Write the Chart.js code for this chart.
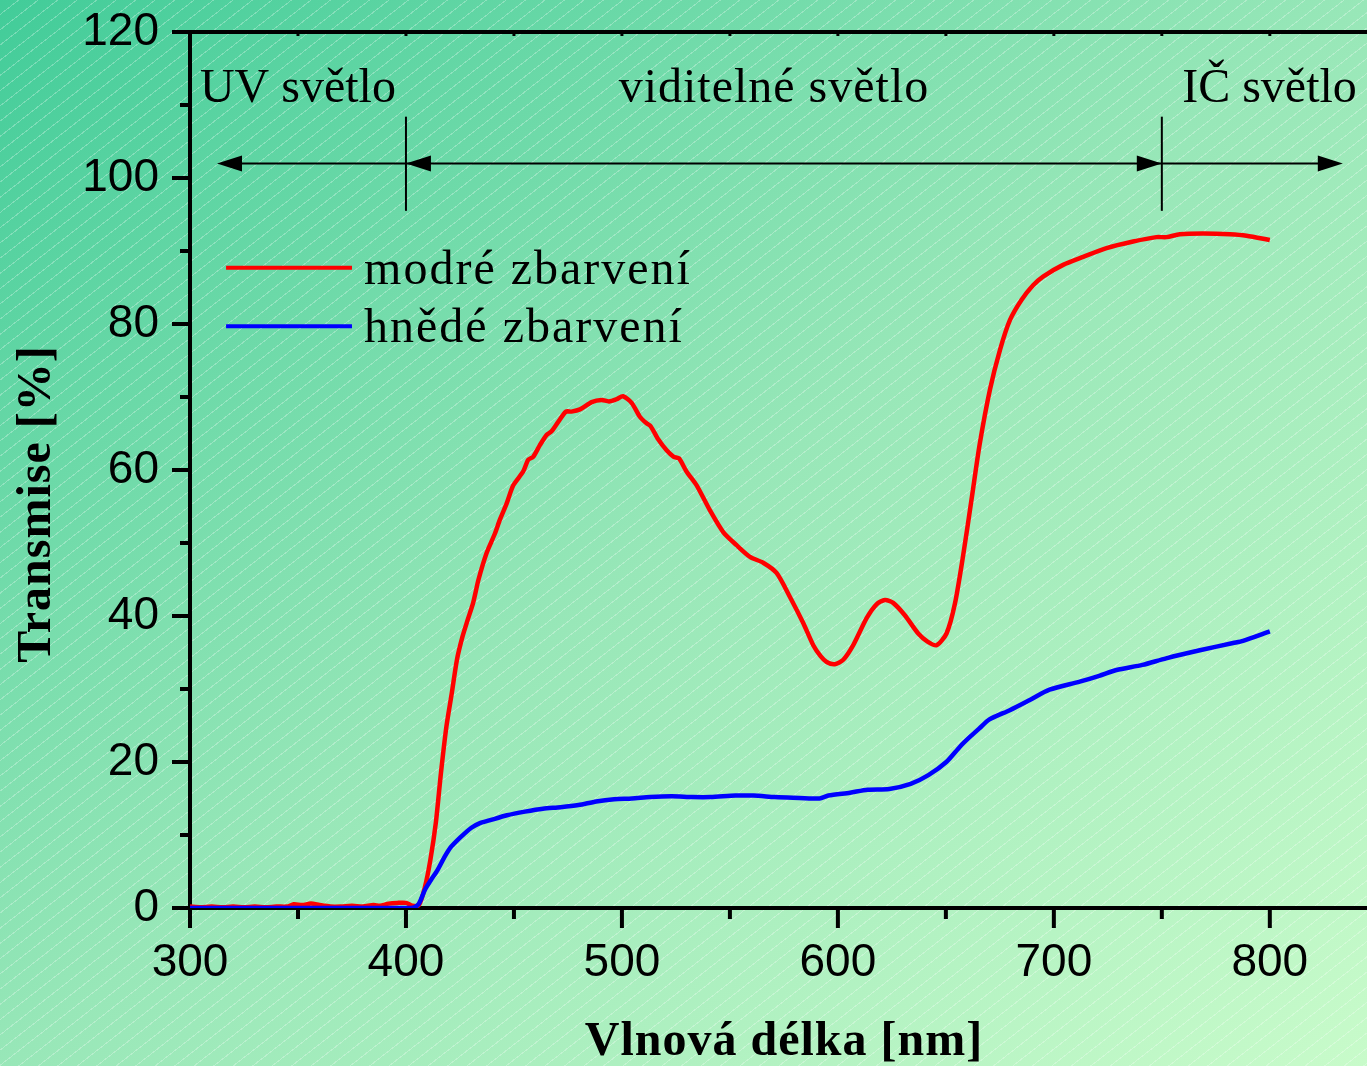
<!DOCTYPE html>
<html>
<head>
<meta charset="utf-8">
<script src="https://cdn.jsdelivr.net/npm/chart.js@4.4.1/dist/chart.umd.min.js"></script>
<style>
html, body { margin: 0; padding: 0; width: 1367px; height: 1066px; overflow: hidden; }
body {
  background:
    repeating-linear-gradient(142deg, rgba(255,255,255,0) 0px, rgba(255,255,255,0) 11px, rgba(255,255,255,0.28) 11px, rgba(255,255,255,0.28) 12px),
    linear-gradient(to bottom right, #42cc99 0%, #98e7b8 50%, #c8fbca 100%);
}
canvas { display: block; }
</style>
</head>
<body>
<canvas id="c" width="1367" height="1066"></canvas>
<script>
// Transmission spectra of the two coloured samples (wavelength in nm, transmission in %)
const modreWl = [300, 305, 310, 315, 320, 325, 330, 335, 340, 345, 348, 352, 356, 360, 365, 370, 375, 380, 385, 388, 392, 396, 400, 403, 406,
  408.8, 411.3, 413.8, 416.2, 418.7, 421.2, 423.6, 426.2, 428.6, 431.1, 433.6, 437.3, 441.2, 443.5, 446.6, 449.7, 454.3, 456.6, 458.9,
  462, 465.1, 467.4, 470.5, 474.1, 476.6, 480.6, 486, 490.6, 494, 497.5, 500.5, 504.5, 508.3, 511.4, 513.3, 516.8, 520.7, 524, 526.4,
  529.9, 534.6, 540.7, 546.9, 553.1, 559.3, 565.4, 571.6, 577.8, 584, 588.6, 592, 594.8, 598.6, 602.5, 607.1, 613.3, 617.9, 621.8,
  625.6, 631, 637.2, 641.5, 645.7, 650.3, 654.2, 658, 661.9, 665.7, 670.4, 675, 679.6, 685, 690.4, 695, 704.3, 713.6, 724.4, 736.7,
  747.5, 752.2, 758.3, 769.1, 781.5, 789.2, 800];
const modreT = [0.2, 0.1, 0.2, 0.1, 0.2, 0.1, 0.2, 0.1, 0.2, 0.2, 0.5, 0.4, 0.6, 0.4, 0.2, 0.2, 0.3, 0.2, 0.4, 0.3, 0.6, 0.7, 0.7, 0.3, 0.4,
  2.9, 6.6, 11.6, 18.5, 24.8, 29.4, 34.0, 37.2, 39.5, 41.8, 45.0, 48.6, 51.3, 53.2, 55.4, 57.9, 59.8, 61.4, 61.8,
  63.4, 64.8, 65.3, 66.6, 68.0, 68.0, 68.3, 69.3, 69.6, 69.4, 69.7, 70.1, 69.2, 67.3, 66.4, 66.0, 64.2, 62.7, 61.8, 61.6,
  59.8, 57.9, 54.5, 51.5, 49.7, 48.1, 47.3, 45.9, 42.6, 39.0, 36.0, 34.5, 33.7, 33.4, 34.0, 36.0, 39.7, 41.6, 42.2,
  41.8, 40.1, 37.6, 36.5, 36.0, 37.6, 41.7, 48.3, 56.0, 63.6, 71.0, 76.4, 80.5, 83.3, 85.3, 86.5, 88.1, 89.2, 90.4, 91.3,
  91.9, 91.9, 92.3, 92.4, 92.3, 92.1, 91.5];

const hnedeWl = [300, 320, 340, 360, 380, 400, 403.8, 406, 408.8, 411.5, 414.6, 417.5, 420.4, 425.3, 430.3, 434, 438.6, 446.8, 455.1,
  463.4, 471.6, 479.9, 488.1, 496.4, 504.6, 513, 522.9, 532.8, 541, 552.6, 560.9, 570.8, 579.1, 591.5, 595.6, 605.6, 613.8, 623.8,
  633.7, 641.9, 650.2, 656.5, 661, 665.5, 670, 679.6, 688.9, 698, 712, 721, 729, 741, 752, 767.6, 783, 787.6, 800];
const hnedeT = [0, 0, 0, 0, 0, 0, 0.1, 0.6, 2.5, 3.8, 5.2, 6.8, 8.2, 9.7, 11.0, 11.6, 12.0, 12.7, 13.2,
  13.6, 13.8, 14.1, 14.6, 14.9, 15.0, 15.2, 15.3, 15.2, 15.2, 15.4, 15.4, 15.2, 15.1, 15.0, 15.4, 15.8, 16.2, 16.3,
  17.0, 18.2, 20.0, 22.1, 23.4, 24.6, 25.8, 27.1, 28.5, 29.9, 31.0, 31.8, 32.6, 33.3, 34.2, 35.3, 36.3, 36.6, 37.9];

const seriesLabels = ['modré zbarvení', 'hnědé zbarvení'];
const xTitle = 'Vlnová délka [nm]';
const yTitle = 'Transmise [%]';

// Spectral regions: label, label anchor (nm), alignment, letter spacing
const regionLabels = [
  { text: 'UV světlo', at: 304.6, align: 'left', spacing: 0 },
  { text: 'viditelné světlo', at: 570.4, align: 'center', spacing: 1 },
  { text: 'IČ světlo', at: 840.3, align: 'right', spacing: 0 }
];
const regionBounds = [400, 750];        // nm, boundaries between the regions
const regionArrowSpan = [312.5, 833.8]; // nm, ends of the double arrow
const arrowLevel = 102;                 // % level of the arrow line
const boundTop = 108.4, boundBottom = 95.5;
const regionTextLevel = 110.4;          // % level of the label baseline

const toPoints = (xs, ys) => xs.map((x, i) => ({ x: x, y: ys[i] }));

const serif = '"Liberation Serif", "Times New Roman", serif';
const sans = '"Liberation Sans", Arial, sans-serif';

function arrowHead(ctx, tipX, y, dir) {
  const len = 25, half = 8;
  ctx.beginPath();
  ctx.moveTo(tipX, y);
  ctx.lineTo(tipX - dir * len, y - half);
  ctx.lineTo(tipX - dir * len, y + half);
  ctx.closePath();
  ctx.fill();
}

const frame = {
  id: 'frame',
  afterDraw(chart) {
    const ctx = chart.ctx;
    const xs = chart.scales.x, ys = chart.scales.y;
    const a = chart.chartArea;
    ctx.save();
    ctx.strokeStyle = '#000';
    ctx.fillStyle = '#000';
    ctx.lineCap = 'butt';

    // top frame line
    ctx.lineWidth = 4;
    ctx.beginPath();
    ctx.moveTo(a.left, a.top);
    ctx.lineTo(a.right, a.top);
    ctx.stroke();

    // y ticks (outside, left)
    for (let v = 0; v <= 120; v += 10) {
      const py = ys.getPixelForValue(v);
      const len = v % 20 === 0 ? 18 : 10;
      ctx.beginPath();
      ctx.moveTo(a.left - len, py);
      ctx.lineTo(a.left, py);
      ctx.stroke();
    }
    // x ticks (outside, below) and small inner ticks on the top frame
    for (let v = 300; v <= 845; v += 50) {
      const px = xs.getPixelForValue(v);
      const len = v % 100 === 0 ? 20 : 11;
      ctx.beginPath();
      ctx.moveTo(px, a.bottom);
      ctx.lineTo(px, a.bottom + len);
      ctx.stroke();
      if (v > 300) {
        ctx.lineWidth = 3;
        ctx.beginPath();
        ctx.moveTo(px, a.top);
        ctx.lineTo(px, a.top + 4);
        ctx.stroke();
        ctx.lineWidth = 4;
      }
    }

    // spectral region arrows
    ctx.lineWidth = 2;
    const yArrow = ys.getPixelForValue(arrowLevel);
    const xL = xs.getPixelForValue(regionArrowSpan[0]);
    const xR = xs.getPixelForValue(regionArrowSpan[1]);
    ctx.beginPath();
    ctx.moveTo(xL + 5, yArrow);
    ctx.lineTo(xR - 5, yArrow);
    ctx.stroke();
    arrowHead(ctx, xL, yArrow, -1);
    arrowHead(ctx, xR, yArrow, 1);
    const yT = ys.getPixelForValue(boundTop), yB = ys.getPixelForValue(boundBottom);
    regionBounds.forEach((b, i) => {
      const px = xs.getPixelForValue(b);
      ctx.beginPath();
      ctx.moveTo(px, yT);
      ctx.lineTo(px, yB);
      ctx.stroke();
      arrowHead(ctx, px, yArrow, i === 0 ? -1 : 1);
    });

    // region labels
    ctx.font = '48px ' + serif;
    ctx.textBaseline = 'alphabetic';
    const yText = ys.getPixelForValue(regionTextLevel);
    regionLabels.forEach(r => {
      ctx.letterSpacing = r.spacing + 'px';
      ctx.textAlign = r.align;
      ctx.fillText(r.text, xs.getPixelForValue(r.at), yText);
    });

    // legend
    ctx.font = '48px ' + serif;
    ctx.letterSpacing = '2px';
    ctx.textAlign = 'left';
    const legX0 = xs.getPixelForValue(316.7), legX1 = xs.getPixelForValue(375);
    const legTextX = xs.getPixelForValue(380.6);
    const legRows = [87.7, 79.7];
    chart.data.datasets.forEach((ds, i) => {
      const py = ys.getPixelForValue(legRows[i]);
      ctx.strokeStyle = ds.borderColor;
      ctx.lineWidth = 4;
      ctx.beginPath();
      ctx.moveTo(legX0, py);
      ctx.lineTo(legX1, py);
      ctx.stroke();
      ctx.fillStyle = '#000';
      ctx.fillText(ds.label, legTextX, py + 16);
    });

    // axis titles
    ctx.letterSpacing = '1px';
    ctx.font = 'bold 48px ' + serif;
    ctx.textAlign = 'center';
    ctx.fillText(xTitle, 784, 1055);
    ctx.translate(50, 504);
    ctx.rotate(-Math.PI / 2);
    ctx.fillText(yTitle, 0, 0);
    ctx.restore();
  }
};

new Chart(document.getElementById('c'), {
  type: 'line',
  data: {
    datasets: [
      { label: seriesLabels[0], data: toPoints(modreWl, modreT), borderColor: '#ff0000', borderWidth: 4.5,
        pointRadius: 0, tension: 0.25, fill: false, order: 1 },
      { label: seriesLabels[1], data: toPoints(hnedeWl, hnedeT), borderColor: '#0000ff', borderWidth: 4.5,
        pointRadius: 0, tension: 0.25, fill: false, order: 0 }
    ]
  },
  options: {
    responsive: false,
    animation: false,
    events: [],
    layout: { padding: { top: 32, left: 0, right: 0, bottom: 0 } },
    plugins: { legend: { display: false }, tooltip: { enabled: false } },
    scales: {
      x: {
        type: 'linear', min: 300, max: 845,
        grid: { display: false },
        border: { display: true, color: '#000', width: 4 },
        ticks: { stepSize: 100, includeBounds: false, padding: 20, color: '#000', maxRotation: 0, autoSkip: false,
                 font: { family: sans, size: 46 } },
        afterFit(s) { s.height = 158; s.paddingLeft = 0; s.paddingRight = 0; }
      },
      y: {
        min: 0, max: 120,
        grid: { display: false },
        border: { display: true, color: '#000', width: 4 },
        ticks: { stepSize: 20, padding: 23, color: '#000', font: { family: sans, size: 46 } },
        afterFit(s) { s.width = 190; s.paddingTop = 0; s.paddingBottom = 0; }
      }
    }
  },
  plugins: [frame]
});
</script>
</body>
</html>
